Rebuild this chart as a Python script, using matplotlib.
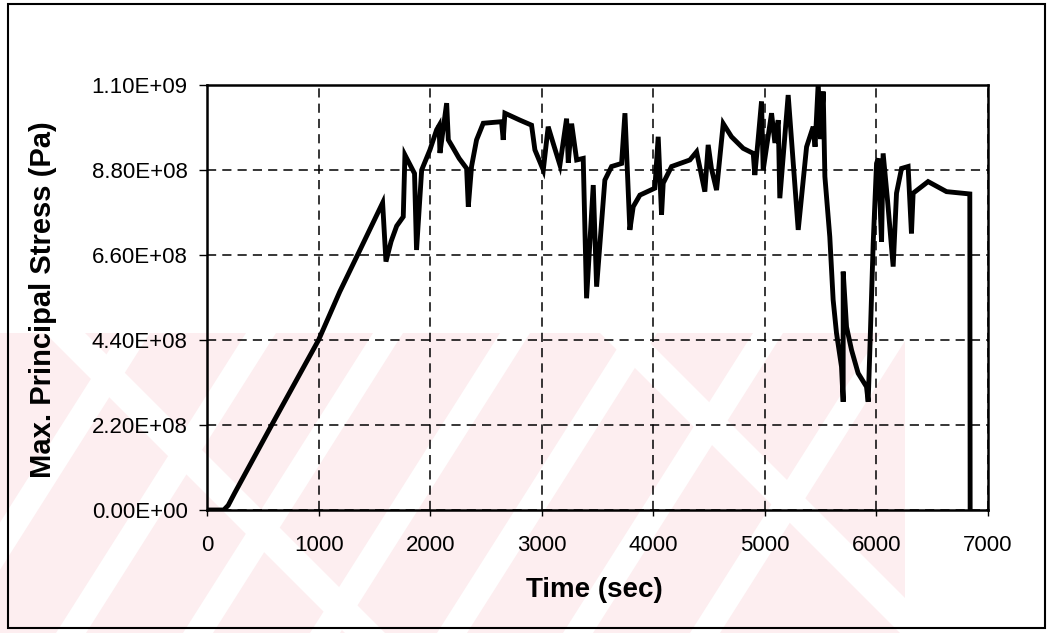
import matplotlib
matplotlib.use("Agg")
import matplotlib.pyplot as plt
from matplotlib.patches import Polygon, Rectangle

# ---- data (time in s, stress in Pa) ----
time_s = [0, 150, 190, 250, 580, 1000, 1190, 1371, 1574, 1604, 1650, 1700, 1759,
          1774, 1860, 1878, 1924, 1998, 2058, 2080, 2088, 2148, 2163, 2200, 2260,
          2327, 2342, 2371, 2416, 2476, 2640, 2655, 2670, 2805, 2909, 2939, 3014,
          3058, 3103, 3163, 3223, 3238, 3268, 3313, 3372, 3402, 3462, 3492, 3566,
          3626, 3716, 3746, 3790, 3820, 3880, 4014, 4044, 4074, 4089, 4164, 4328,
          4388, 4462, 4492, 4521, 4567, 4627, 4701, 4806, 4896, 4910, 4940, 4970,
          4985, 5060, 5090, 5120, 5134, 5209, 5299, 5374, 5433, 5450, 5478, 5500,
          5523, 5538, 5582, 5612, 5642, 5687, 5702, 5702, 5732, 5777, 5836, 5911,
          5926, 5941, 5971, 6001, 6016, 6046, 6060, 6100, 6150, 6180, 6225, 6284,
          6314, 6329, 6463, 6628, 6837, 6840]
stress_e8 = [0, 0, 0.12, 0.45, 2.2, 4.4, 5.65, 6.73, 7.95, 6.43, 6.95, 7.35, 7.59,
             9.19, 8.71, 6.73, 8.80, 9.32, 9.84, 9.95, 9.24, 10.53, 9.58, 9.40, 9.10,
             8.84, 7.85, 8.89, 9.58, 10.01, 10.05, 9.58, 10.27, 10.09, 9.96, 9.32, 8.80,
             9.92, 9.49, 8.93, 10.13, 8.99, 10.0, 9.06, 9.10, 5.48, 8.41, 5.78, 8.54,
             8.89, 8.97, 10.27, 7.25, 7.85, 8.15, 8.33, 9.66, 7.64, 8.46, 8.89, 9.06,
             9.27, 8.24, 9.45, 8.84, 8.28, 10.0, 9.66, 9.36, 9.23, 8.67, 9.60, 10.57,
             8.80, 10.27, 9.5, 10.09, 8.07, 10.74, 7.25, 9.40, 9.92, 9.4, 11.04, 9.6,
             10.83, 8.63, 7.07, 5.44, 4.58, 3.71, 2.80, 6.17, 4.74, 4.14, 3.54, 3.19,
             2.80, 4.14, 6.90, 8.97, 9.10, 6.94, 9.23, 8.0, 6.30, 8.2, 8.84, 8.89,
             7.16, 8.20, 8.50, 8.24, 8.18, 0]
stress_pa = [v * 1e8 for v in stress_e8]

x_ticks = [0, 1000, 2000, 3000, 4000, 5000, 6000, 7000]
y_ticks = [0, 2.2e8, 4.4e8, 6.6e8, 8.8e8, 1.1e9]
y_tick_labels = ["0.00E+00", "2.20E+08", "4.40E+08", "6.60E+08", "8.80E+08", "1.10E+09"]

W, H = 1051, 633
plt.rcParams['font.family'] = ['Liberation Sans', 'DejaVu Sans']
fig = plt.figure(figsize=(W / 100, H / 100), dpi=100)
fig.patch.set_facecolor('white')

def fxy(pts):
    return [(x / W, 1 - y / H) for x, y in pts]

# ---- faint watermark (decorative) ----
pink = '#fdeef0'
fig.patches.append(Polygon(fxy([(0, 333), (905, 333), (905, 633), (0, 633)]),
                           closed=True, transform=fig.transFigure,
                           facecolor=pink, edgecolor='none', zorder=0))
for xb in [-70, 56, 183, 310, 437, 563, 690]:
    w = 30
    fig.patches.append(Polygon(fxy([(xb, 633), (xb + w, 633), (xb + w + 190, 333), (xb + 190, 333)]),
                               closed=True, transform=fig.transFigure,
                               facecolor='white', edgecolor='none', zorder=0.1))
for xt in [45, 600]:
    w = 40
    fig.patches.append(Polygon(fxy([(xt, 333), (xt + w, 333), (xt + w + 300, 633), (xt + 300, 633)]),
                               closed=True, transform=fig.transFigure,
                               facecolor='white', edgecolor='none', zorder=0.1))

# outer border
fig.patches.append(Rectangle((8 / W, 1 - 628 / H), (1045 - 8) / W, (628 - 4) / H,
                             transform=fig.transFigure, fill=False,
                             edgecolor='black', linewidth=1.5, zorder=1))

ax = fig.add_axes([207 / W, 1 - 510 / H, (988 - 207) / W, (510 - 85) / H])
ax.set_facecolor('none')
ax.set_zorder(2)

ax.plot(time_s, stress_pa, color='black', linewidth=3.5, solid_joinstyle='miter', zorder=3)

ax.set_xlim(0, 7000)
ax.set_ylim(0, 1.1e9)
ax.set_xticks(x_ticks)
ax.set_xticklabels([str(v) for v in x_ticks])
ax.set_yticks(y_ticks)
ax.set_yticklabels(y_tick_labels)
ax.tick_params(axis='x', direction='out', length=4, width=1, pad=14, labelsize=16)
ax.tick_params(axis='y', direction='out', length=6, width=1, pad=8, labelsize=16)

ax.grid(True, color='black', linestyle=(0, (6, 4)), linewidth=1.1)
for s in ax.spines.values():
    s.set_linewidth(1.8)
    s.set_color('black')

fig.text(594 / W, 1 - 590 / H, "Time (sec)", ha='center', va='center',
         fontsize=20, fontweight='bold')
fig.text(43 / W, 1 - 300 / H, "Max. Principal Stress (Pa)", ha='center', va='center',
         rotation=90, fontsize=21, fontweight='bold')

fig.savefig("out.png", dpi=100)
